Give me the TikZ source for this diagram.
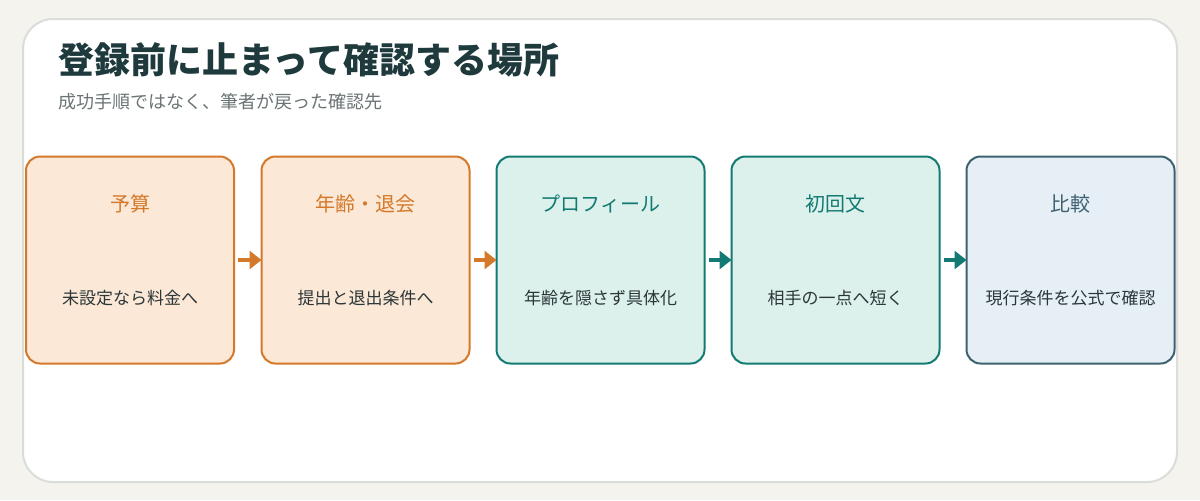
\documentclass[tikz,border=0pt]{standalone}
\usepackage{fontspec}
\setmainfont{Noto Sans CJK JP}
\usepackage{tikz}
\usetikzlibrary{arrows.meta,positioning}

\definecolor{pagebg}{HTML}{F4F3EE}
\definecolor{cardline}{HTML}{DADDDA}
\definecolor{inkdark}{HTML}{1F3A3D}
\definecolor{inkgray}{HTML}{6B7475}
\definecolor{bodyink}{HTML}{2A3638}
\definecolor{orangeline}{HTML}{D4792A}
\definecolor{orangefill}{HTML}{FCE8D6}
\definecolor{tealline}{HTML}{127A73}
\definecolor{tealfill}{HTML}{DDF1EC}
\definecolor{slateline}{HTML}{3E6170}
\definecolor{slatefill}{HTML}{E6EFF5}

\begin{document}
\begin{tikzpicture}[x=0.5pt, y=-0.5pt,
  stepbox/.style={draw, line width=1pt, rounded corners=7pt, minimum width=104pt, minimum height=103.5pt, inner sep=0pt},
  boxtitle/.style={font=\fontsize{10}{12}\selectfont},
  boxbody/.style={font=\fontsize{8.5}{10}\selectfont, text=bodyink},
  flow/.style={-{Triangle[length=6pt, width=9pt]}, line width=2pt, shorten >=-0.5pt}]

% Page and card
\useasboundingbox (0,0) rectangle (1200,500);
\fill[pagebg] (0,0) rectangle (1200,500);
\draw[cardline, fill=white, line width=1pt, rounded corners=15pt] (23,19) rectangle (1177,482);

% Heading
\node[anchor=base west, inner sep=0pt, text=inkdark, font=\fontsize{18}{20}\selectfont\bfseries] (heading) at (58,73) {登録前に止まって確認する場所};
\node[anchor=base west, inner sep=0pt, text=inkgray, font=\fontsize{9}{11}\selectfont] (subhead) at (58,108) {成功手順ではなく、筆者が戻った確認先};

% Steps
\node[stepbox, draw=orangeline, fill=orangefill] (budget) at (130,260) {};
\node[stepbox, draw=orangeline, fill=orangefill] (agequit) at (365.5,260) {};
\node[stepbox, draw=tealline, fill=tealfill] (profile) at (600.5,260) {};
\node[stepbox, draw=tealline, fill=tealfill] (firstmsg) at (835.5,260) {};
\node[stepbox, draw=slateline, fill=slatefill] (compare) at (1070.5,260) {};

\node[boxtitle, text=orangeline] (budgett) at (130,204) {予算};
\node[boxbody] (budgetb) at (130,298) {未設定なら料金へ};
\node[boxtitle, text=orangeline] (agequitt) at (365.5,204) {年齢・退会};
\node[boxbody] (agequitb) at (365.5,298) {提出と退出条件へ};
\node[boxtitle, text=tealline] (profilet) at (600.5,204) {プロフィール};
\node[boxbody] (profileb) at (600.5,298) {年齢を隠さず具体化};
\node[boxtitle, text=tealline] (firstmsgt) at (835.5,204) {初回文};
\node[boxbody] (firstmsgb) at (835.5,298) {相手の一点へ短く};
\node[boxtitle, text=slateline] (comparet) at (1070.5,204) {比較};
\node[boxbody] (compareb) at (1070.5,298) {現行条件を公式で確認};

% Arrows between steps
\draw[flow, orangeline] ([xshift=1.5pt]budget.east) -- (agequit.west);
\draw[flow, orangeline] ([xshift=1.5pt]agequit.east) -- (profile.west);
\draw[flow, tealline] ([xshift=1.5pt]profile.east) -- (firstmsg.west);
\draw[flow, tealline] ([xshift=1.5pt]firstmsg.east) -- (compare.west);

\end{tikzpicture}
\end{document}
